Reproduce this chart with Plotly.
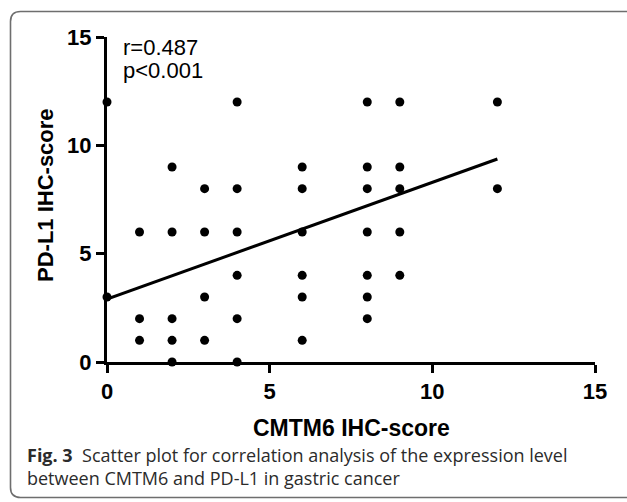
import plotly.graph_objects as go

# Data
cmtm6_score = [0, 0, 1, 1, 1, 2, 2, 2, 2, 2, 3, 3, 3, 3, 4, 4, 4, 4, 4, 4,
               6, 6, 6, 6, 6, 6, 8, 8, 8, 8, 8, 8, 8, 9, 9, 9, 9, 9, 12, 12]
pdl1_score = [12, 3, 6, 2, 1, 9, 6, 2, 1, 0, 8, 6, 3, 1, 12, 8, 6, 4, 2, 0,
              9, 8, 6, 4, 3, 1, 12, 9, 8, 6, 4, 3, 2, 12, 9, 8, 6, 4, 12, 8]
fit_x = [0, 12]
fit_y = [2.9, 9.37]
tick_vals = [0, 5, 10, 15]
stat_lines = ["r=0.487", "p<0.001"]
x_title = "CMTM6 IHC-score"
y_title = "PD-L1 IHC-score"
caption_lines = ["<b>Fig. 3</b>  Scatter plot for correlation analysis of the expression level",
                 "between CMTM6 and PD-L1 in gastric cancer"]

W, H = 627, 502
L, R, T, B = 107, 32, 37, 140
PW, PH = W - L - R, H - T - B


def px(xp):
    return (xp - L) / PW


def py(yp):
    return (H - B - yp) / PH


fig = go.Figure()
fig.add_trace(go.Scatter(x=fit_x, y=fit_y, mode="lines",
                         line=dict(color="black", width=3),
                         cliponaxis=False, hoverinfo="skip"))
fig.add_trace(go.Scatter(x=cmtm6_score, y=pdl1_score, mode="markers",
                         marker=dict(color="black", size=9),
                         cliponaxis=False))

axis_common = dict(
    range=[0, 15], tickvals=tick_vals, showgrid=False, zeroline=False,
    showline=True, linecolor="black", linewidth=3,
    ticks="outside", ticklen=8, tickwidth=3, tickcolor="black",
    tickfont=dict(family="Liberation Sans", size=22, color="black", weight="bold"),
    automargin=False,
)

fig.update_layout(
    width=W, height=H,
    margin=dict(l=L, r=R, t=T, b=B, autoexpand=False),
    paper_bgcolor="white", plot_bgcolor="white",
    showlegend=False,
    xaxis=dict(**axis_common),
    yaxis=dict(**axis_common),
)

fig.add_annotation(x=px(351.5), y=py(428), xref="paper", yref="paper",
                   text=f"<b>{x_title}</b>", showarrow=False,
                   xanchor="center", yanchor="middle",
                   font=dict(family="Liberation Sans", size=23, color="black"))
fig.add_annotation(x=px(45), y=py(195), xref="paper", yref="paper",
                   text=f"<b>{y_title}</b>", showarrow=False, textangle=-90,
                   xanchor="center", yanchor="middle",
                   font=dict(family="Liberation Sans", size=22, color="black"))

# r / p text
for i, s in enumerate(stat_lines):
    fig.add_annotation(x=px(121), y=py(47 + 23.7 * i), xref="paper", yref="paper",
                       text=s, showarrow=False,
                       xanchor="left", yanchor="middle", align="left",
                       font=dict(family="Liberation Sans", size=22, color="black"))

# caption
fig.add_annotation(x=px(25), y=py(466.5), xref="paper", yref="paper",
                   text="<br>".join(caption_lines), showarrow=False,
                   xanchor="left", yanchor="middle", align="left",
                   font=dict(family="Open Sans", size=18, color="#2b2b2b"))

# rounded border box (right side runs off the image)
x0, x1 = px(10.5), px(640)
y0, y1 = py(497.5), py(11.5)
rx, ry = 10 / PW, 10 / PH
path = (f"M {x1},{y1} L {x0+rx},{y1} Q {x0},{y1} {x0},{y1-ry} "
        f"L {x0},{y0+ry} Q {x0},{y0} {x0+rx},{y0} L {x1},{y0}")
fig.add_shape(type="path", path=path, xref="paper", yref="paper",
              line=dict(color="#6e6e6e", width=1.6), layer="below")

fig.write_html("out.html", config={"displayModeBar": False},
               post_script="document.body.style.margin='0';"
                           "document.body.style.overflow='hidden';")
